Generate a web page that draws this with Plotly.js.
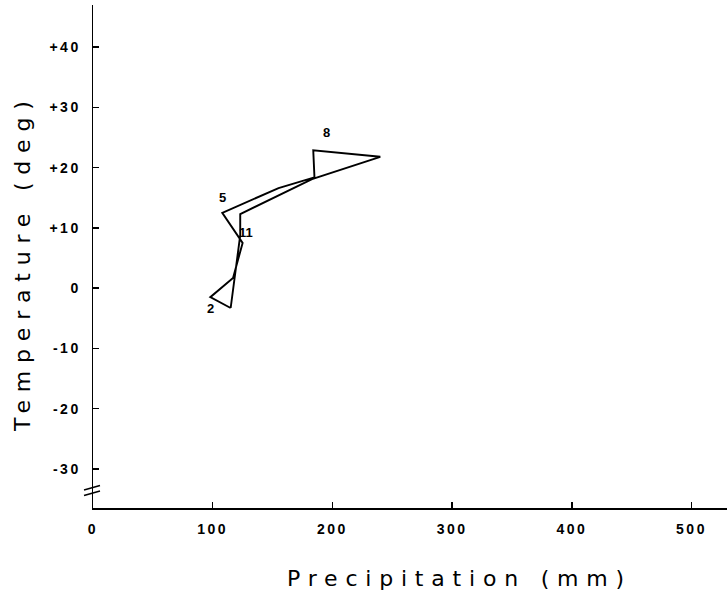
<!DOCTYPE html>
<html>
<head>
<meta charset="utf-8">
<script src="https://cdn.plot.ly/plotly-3.0.1.min.js"></script>
<style>html,body{margin:0;padding:0;background:#fff;}#chart{width:727px;height:599px;}</style>
</head>
<body>
<div id="chart"></div>
<script>
// Monthly climate values
const months = [1, 2, 3, 4, 5, 6, 7, 8, 9, 10, 11, 12];
const precipitation = [115, 98, 117, 125, 108, 155, 185, 184, 240, 183, 123, 123]; // mm
const temperature = [-3.3, -1.5, 1.7, 7.5, 12.5, 16.6, 18.4, 22.9, 21.8, 18.1, 12.3, 8.8]; // deg
const labeledMonths = [2, 5, 8, 11];

const xTickVals = [0, 100, 200, 300, 400, 500];
const xTickText = ["0", "100", "200", "300", "400", "500"];
const yTickVals = [-30, -20, -10, 0, 10, 20, 30, 40];
const yTickText = ["-30", "-20", "-10", "0", "+10", "+20", "+30", "+40"];

const xTitle = "Precipitation\u00a0(mm)";
const yTitle = "Temperature\u00a0(deg)";

// label offsets (pixels) for month numbers
const labelShift = {2: [0, -11], 5: [0, 15], 8: [13, 18], 11: [6, -18]};

const spaced = (t, ls) => '<span style="letter-spacing:' + ls + 'px">' + t + '</span>';

// closed loop
const xs = precipitation.concat([precipitation[0]]);
const ys = temperature.concat([temperature[0]]);

const trace = {
  x: xs, y: ys, type: 'scatter', mode: 'lines',
  line: {color: '#000', width: 1.9}, hoverinfo: 'skip', showlegend: false
};

const annotations = labeledMonths.map(m => {
  const i = months.indexOf(m);
  return {
    x: precipitation[i], y: temperature[i], xref: 'x', yref: 'y',
    text: String(m), showarrow: false,
    xshift: labelShift[m][0], yshift: labelShift[m][1],
    font: {family: 'Liberation Sans', size: 13, color: '#000', weight: 'bold'}
  };
});

const L = 93, R = 0, T = 5, B = 91, W = 727, H = 599;
const pw = W - L - R, ph = H - T - B;
const px2paperX = p => (p - L) / pw;
const px2paperY = p => (H - B - p) / ph;

annotations.push({
  xref: 'paper', yref: 'paper', x: px2paperX(460), y: px2paperY(578),
  xanchor: 'center', yanchor: 'middle', showarrow: false,
  text: spaced(xTitle, 7.8),
  font: {family: 'DejaVu Sans', size: 22, color: '#000'}
});
annotations.push({
  xref: 'paper', yref: 'paper', x: px2paperX(22), y: px2paperY(263),
  xanchor: 'center', yanchor: 'middle', showarrow: false, textangle: -90,
  text: spaced(yTitle, 7.8),
  font: {family: 'DejaVu Sans', size: 22, color: '#000'}
});

const shapes = [
  {type: 'line', xref: 'paper', yref: 'paper',
   x0: px2paperX(84), y0: px2paperY(490), x1: px2paperX(100), y1: px2paperY(485.5),
   line: {color: '#000', width: 1.6}},
  {type: 'line', xref: 'paper', yref: 'paper',
   x0: px2paperX(84), y0: px2paperY(495.5), x1: px2paperX(100), y1: px2paperY(491),
   line: {color: '#000', width: 1.6}}
];

const tickFont = {family: 'Liberation Sans', size: 14, color: '#000', weight: 'bold'};

const layout = {
  width: W, height: H,
  margin: {l: L, r: R, t: T, b: B, pad: 0},
  paper_bgcolor: '#fff', plot_bgcolor: '#fff',
  showlegend: false,
  xaxis: {
    range: [0, pw / 1.197], showgrid: false, zeroline: false,
    showline: true, linecolor: '#000', linewidth: 1.5,
    ticks: 'inside', ticklen: 6, tickwidth: 1.5, tickcolor: '#000',
    tickmode: 'array', tickvals: xTickVals, ticktext: xTickText.map(t => spaced(t, 2.5)),
    tickfont: tickFont, ticklabelstandoff: 8, fixedrange: true
  },
  yaxis: {
    range: [-36.5, 47], showgrid: false, zeroline: false,
    showline: true, linecolor: '#000', linewidth: 1.5,
    ticks: 'inside', ticklen: 6, tickwidth: 1.5, tickcolor: '#000',
    tickmode: 'array', tickvals: yTickVals, ticktext: yTickText.map(t => spaced(t, 2.5)),
    tickfont: tickFont, ticklabelstandoff: 8, fixedrange: true
  },
  annotations: annotations,
  shapes: shapes
};

Plotly.newPlot('chart', [trace], layout, {displayModeBar: false, staticPlot: true});
</script>
</body>
</html>
